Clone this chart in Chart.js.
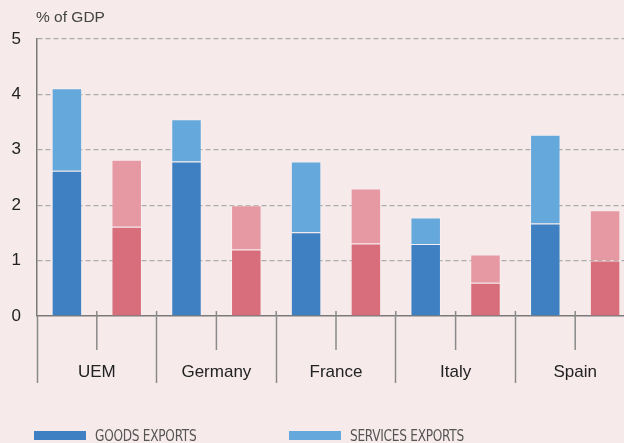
<!DOCTYPE html>
<html><head><meta charset="utf-8">
<script src="https://cdn.jsdelivr.net/npm/chart.js@4"></script>
<style>
html,body{margin:0;padding:0;background:#F6EAEB;overflow:hidden;width:624px;height:443px;}
#wrap{position:absolute;left:0;top:0;width:635px;height:443px;}
#unit{position:absolute;left:36px;top:8px;font:15.5px "Liberation Sans",Arial,sans-serif;color:#444;white-space:nowrap;}
.box{position:absolute;width:52px;height:9px;}
.txt{position:absolute;font:15px/15px "Liberation Sans Narrow","DejaVu Sans Condensed",sans-serif;color:#555;letter-spacing:-0.3px;white-space:nowrap;transform:scaleX(0.9);transform-origin:0 0;}
</style></head><body>
<div id="wrap"><canvas id="c" width="635" height="443"></canvas></div>
<div id="unit">% of GDP</div>
<div id="legend"></div>
<script>
const categories = ['UEM', 'Germany', 'France', 'Italy', 'Spain'];
const goodsExports = [2.62, 2.79, 1.51, 1.30, 1.67];
const servicesExports = [1.49, 0.76, 1.28, 0.48, 1.60];
const goodsImports = [1.61, 1.20, 1.31, 0.60, 1.00];
const servicesImports = [1.21, 0.80, 0.99, 0.51, 0.91];
const yTicks = [0, 1, 2, 3, 4, 5];

const seriesLabels = ['GOODS EXPORTS', 'SERVICES EXPORTS', 'GOODS IMPORTS', 'SERVICES IMPORTS'];
const colors = ['#3F80C3', '#65A8DB', '#D86D7B', '#E699A2'];

const FONT = '"Liberation Sans", Arial, Helvetica, sans-serif';

const tickPlugin = {
  id: 'catTicks',
  afterDraw(chart) {
    const x = chart.scales.x;
    const ca = chart.chartArea;
    const ctx = chart.ctx;
    ctx.save();
    ctx.strokeStyle = '#8a8a8a';
    ctx.lineWidth = 1.5;
    const n = categories.length;
    const half = (x.getPixelForValue(1) - x.getPixelForValue(0)) / 2;
    for (let i = 0; i < n; i++) {
      const cx = x.getPixelForValue(i);
      ctx.beginPath();
      ctx.moveTo(cx, ca.bottom - 5);
      ctx.lineTo(cx, ca.bottom + 34);
      ctx.stroke();
      const bx = cx - half;
      if (i > 0) {
        ctx.beginPath();
        ctx.moveTo(bx, ca.bottom - 5);
        ctx.lineTo(bx, ca.bottom);
        ctx.stroke();
      }
    }
    ctx.restore();
  }
};

const datasets = [
  { label: seriesLabels[0], data: goodsExports, stack: 'exp' },
  { label: seriesLabels[1], data: servicesExports, stack: 'exp' },
  { label: seriesLabels[2], data: goodsImports, stack: 'imp' },
  { label: seriesLabels[3], data: servicesImports, stack: 'imp' }
].map((d, i) => Object.assign(d, {
  backgroundColor: colors[i],
  borderColor: 'rgba(255,255,255,0.28)',
  borderWidth: 1,
  borderSkipped: 'start',
  barPercentage: 0.51,
  categoryPercentage: 1.0
}));

new Chart(document.getElementById('c'), {
  type: 'bar',
  data: { labels: categories, datasets },
  options: {
    responsive: false,
    animation: false,
    layout: { padding: { top: 39, right: 0, left: 0, bottom: 0 } },
    plugins: { legend: { display: false }, tooltip: { enabled: false }, title: { display: false } },
    scales: {
      x: {
        stacked: true,
        grid: {
          offset: true,
          drawOnChartArea: false,
          drawTicks: true,
          tickLength: 67,
          tickColor: '#8a8a8a',
          tickWidth: 1.5
        },
        border: { display: true, color: '#7a7a7a', width: 1.5 },
        ticks: {
          color: '#222',
          font: { family: FONT, size: 17 },
          padding: -21,
          maxRotation: 0,
          autoSkip: false
        },
        afterFit(s) { s.height = 127; }
      },
      y: {
        stacked: true,
        min: 0,
        max: 5,
        afterBuildTicks(s) { s.ticks = yTicks.map(v => ({ value: v })); },
        ticks: {
          color: '#222',
          font: { family: FONT, size: 17 },
          padding: 16
        },
        grid: {
          drawTicks: false,
          color: ctx => (ctx.tick && ctx.tick.value === 0) ? 'rgba(0,0,0,0)' : '#ababab',
          lineWidth: 1.2
        },
        border: { display: true, color: '#7a7a7a', width: 1.5, dash: [5, 3] },
        afterFit(s) { s.width = 37; }
      }
    }
  },
  plugins: [tickPlugin]
});

// HTML legend built from the datasets (second row lies below the visible window)
const legendPos = [
  { bx: 34, by: 431, tx: 95, ty: 429 },
  { bx: 289, by: 431, tx: 350, ty: 429 },
  { bx: 34, by: 461, tx: 95, ty: 459 },
  { bx: 289, by: 461, tx: 350, ty: 459 }
];
const leg = document.getElementById('legend');
seriesLabels.forEach((lab, i) => {
  const p = legendPos[i];
  const b = document.createElement('div');
  b.className = 'box';
  b.style.left = p.bx + 'px'; b.style.top = p.by + 'px';
  b.style.background = colors[i];
  const t = document.createElement('div');
  t.className = 'txt';
  t.style.left = p.tx + 'px'; t.style.top = p.ty + 'px';
  t.textContent = lab;
  leg.appendChild(b); leg.appendChild(t);
});
</script>
</body></html>
